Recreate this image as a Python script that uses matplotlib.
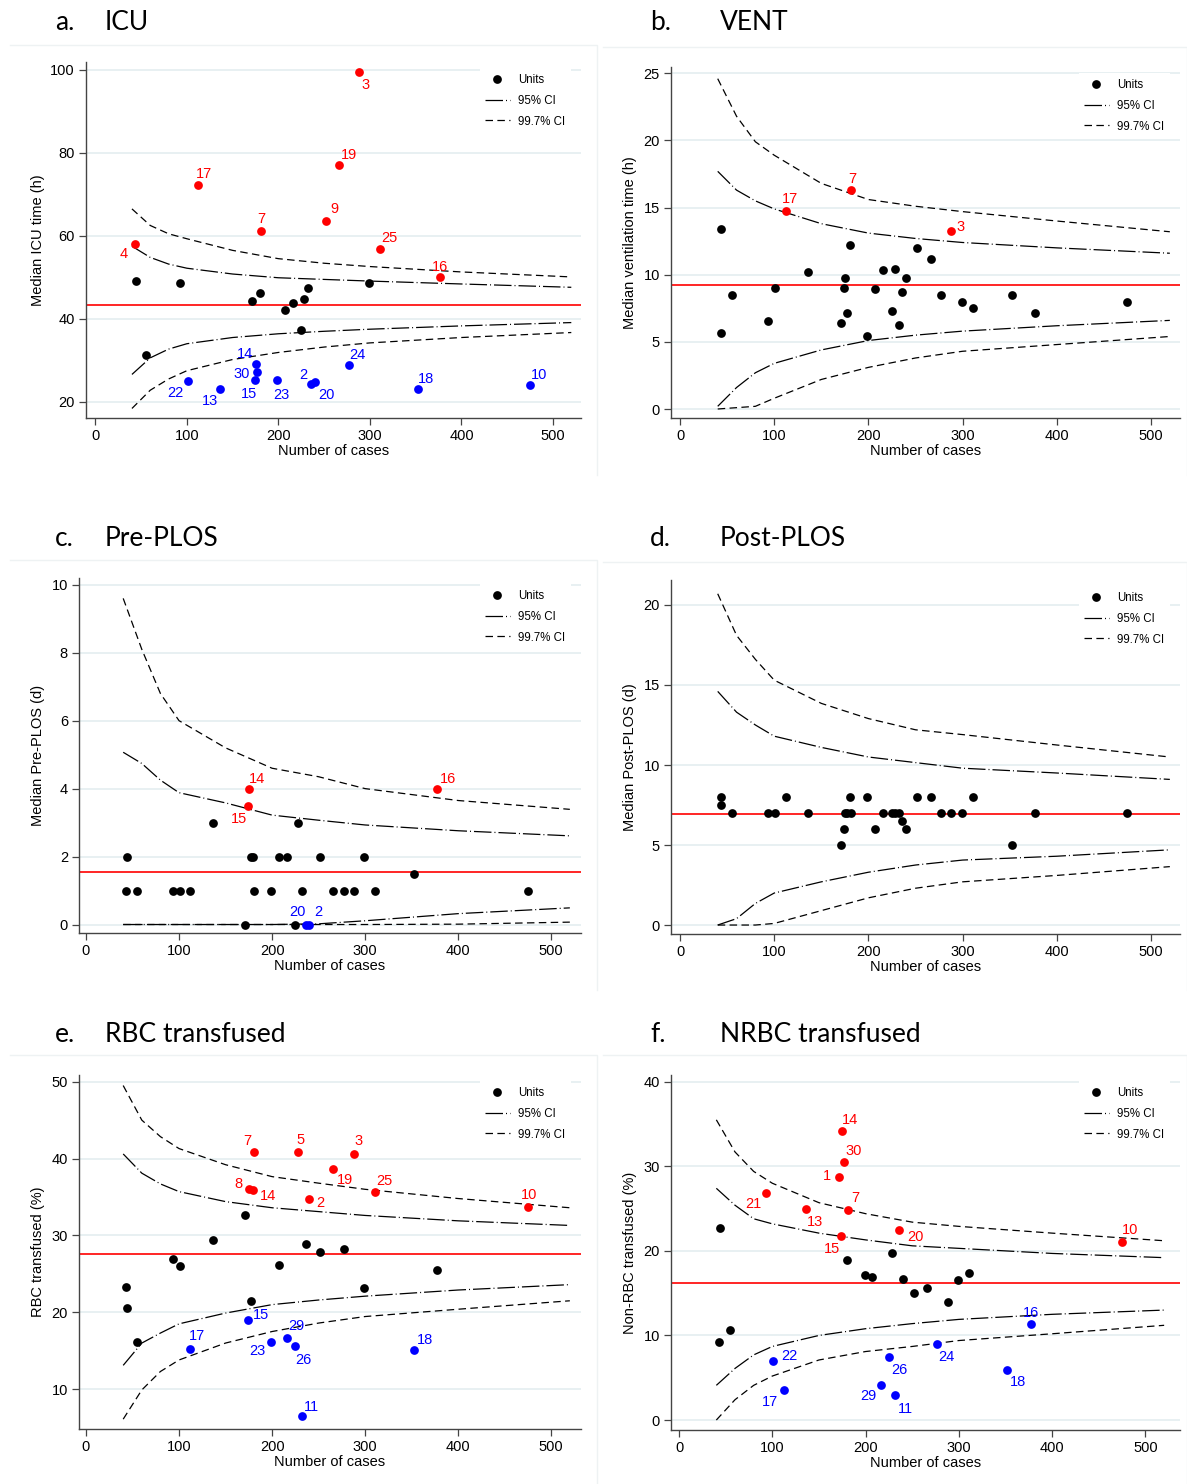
import matplotlib
matplotlib.use('Agg')
from matplotlib import pyplot as plt
from matplotlib.lines import Line2D

plt.rcParams['font.family'] = ['Liberation Sans', 'DejaVu Sans']

# units (hospital id) and their number of cases
unit_ids = [4, 6, 12, 21, 22, 17, 13, 1, 15, 14, 30, 8, 7, 23, 27,
            29, 26, 5, 11, 20, 2, 9, 19, 24, 3, 28, 25, 18, 16, 10]
cases = [43, 44, 55, 93, 101, 112, 136, 171, 174, 175, 177, 180, 181, 199, 207,
         216, 225, 228, 232, 236, 240, 252, 266, 277, 288, 299, 311, 352, 377, 475]

# medians per unit, same order as unit_ids
icu = [58.1, 49.0, 31.2, 48.6, 25.0, 72.3, 23.2, 44.2, 25.2, 29.0, 27.2, 46.3, 61.1, 25.2, 42.1,
       43.8, 37.3, 44.8, 47.5, 24.3, 24.7, 63.6, 77.1, 28.9, 99.4, 48.6, 56.8, 23.0, 50.1, 24.1]
vent = [5.68, 13.37, 8.48, 6.57, 9.0, 14.76, 10.24, 6.42, 9.0, 9.75, 7.14, 12.23, 16.34, 5.43, 8.9,
        10.34, 7.27, 10.42, 6.25, 8.68, 9.75, 11.98, 11.19, 8.48, 13.22, 7.99, 7.51, 8.48, 7.17, 7.99]
pre_plos = [1, 2, 1, 1, 1, 1, 3, 0, 3.5, 4, 2, 2, 1, 1, 2,
            2, 0, 3, 1, 0, 0, 2, 1, 1, 1, 2, 1, 1.5, 4, 1]
post_plos = [7.5, 8, 7, 7, 7, 8, 7, 5, 6, 7, 7, 8, 7, 8, 6,
             7, 7, 7, 7, 6.5, 6, 8, 8, 7, 7, 7, 8, 5, 7, 7]
rbc = [23.3, 20.5, 16.1, 26.9, 26.0, 15.2, 29.4, 32.7, 19.0, 36.0, 21.5, 35.9, 40.9, 16.1, 26.1,
       16.7, 15.6, 40.8, 6.5, 28.9, 34.7, 27.8, 38.6, 28.2, 40.6, 23.1, 35.7, 15.1, 25.5, 33.7]
nrbc = [9.26, 22.7, 10.6, 26.9, 7.0, 3.55, 25.0, 28.7, 21.75, 34.2, 30.5, 18.95, 24.8, 17.1, 16.9,
        4.1, 7.5, 19.7, 2.95, 22.5, 16.7, 15.05, 15.6, 8.95, 13.9, 16.6, 17.4, 5.9, 11.35, 21.0]

# overall medians
icu_mean, vent_mean, pre_mean, post_mean, rbc_mean, nrbc_mean = 43.4, 9.2, 1.54, 6.95, 27.56, 16.16

# outliers above / below the 95% limits
icu_high = [4, 17, 7, 9, 19, 3, 25, 16]
icu_low = [22, 13, 14, 30, 15, 23, 20, 2, 24, 18, 10]
vent_high = [17, 7, 3]
vent_low = []
pre_high = [14, 15, 16]
pre_low = [20, 2]
post_high = []
post_low = []
rbc_high = [7, 5, 8, 14, 2, 19, 3, 25, 10]
rbc_low = [15, 17, 23, 29, 26, 11, 18]
nrbc_high = [14, 30, 1, 21, 7, 13, 15, 20, 10]
nrbc_low = [22, 26, 17, 29, 11, 24, 16, 18]

# control limits
ci_x = [40, 60, 80, 100, 150, 200, 250, 300, 400, 520]
icu_u997 = [66.5, 62.5, 60.5, 59.3, 56.5, 54.5, 53.4, 52.6, 51.3, 50.1]
icu_u95 = [57.5, 54.8, 53.2, 52.2, 50.8, 49.9, 49.5, 49.1, 48.4, 47.6]
icu_l95 = [26.6, 30.6, 32.7, 34.0, 35.5, 36.4, 37.0, 37.5, 38.3, 39.1]
icu_l997 = [18.4, 22.8, 25.5, 27.5, 30.2, 31.9, 33.2, 34.2, 35.5, 36.7]
vent_u997 = [24.6, 21.8, 19.9, 18.9, 16.8, 15.6, 15.1, 14.7, 14.0, 13.2]
vent_u95 = [17.7, 16.3, 15.5, 14.9, 13.8, 13.1, 12.7, 12.4, 12.0, 11.6]
vent_l95 = [0.2, 1.6, 2.7, 3.4, 4.4, 5.1, 5.5, 5.8, 6.2, 6.6]
vent_l997 = [0.0, 0.1, 0.2, 0.8, 2.2, 3.1, 3.8, 4.3, 4.8, 5.4]
pre_u997 = [9.6, 8.1, 6.8, 6.0, 5.2, 4.6, 4.35, 4.0, 3.65, 3.39]
pre_u95 = [5.07, 4.74, 4.25, 3.88, 3.58, 3.22, 3.07, 2.93, 2.76, 2.61]
pre_l95 = [0, 0, 0, 0, 0, 0, 0.02, 0.11, 0.32, 0.49]
pre_l997 = [0, 0, 0, 0, 0, 0, 0, 0, 0.01, 0.07]
post_u997 = [20.7, 18.1, 16.6, 15.3, 13.85, 12.9, 12.2, 11.9, 11.25, 10.5]
post_u95 = [14.6, 13.3, 12.5, 11.8, 11.1, 10.5, 10.15, 9.8, 9.5, 9.1]
post_l95 = [0, 0.4, 1.35, 2.0, 2.7, 3.3, 3.75, 4.06, 4.3, 4.7]
post_l997 = [0, 0, 0, 0.1, 0.9, 1.7, 2.3, 2.7, 3.1, 3.65]
rbc_u997 = [49.5, 45.0, 42.85, 41.3, 39.2, 37.65, 36.8, 36.0, 34.8, 33.6]
rbc_u95 = [40.6, 38.1, 36.7, 35.7, 34.4, 33.6, 33.1, 32.6, 31.9, 31.3]
rbc_l95 = [13.1, 16.0, 17.3, 18.5, 19.9, 21.0, 21.6, 22.1, 22.9, 23.6]
rbc_l997 = [6.1, 9.9, 12.3, 13.8, 16.0, 17.5, 18.6, 19.45, 20.4, 21.5]
nrbc_u997 = [35.5, 31.7, 29.4, 28.0, 25.7, 24.4, 23.4, 22.9, 22.1, 21.2]
nrbc_u95 = [27.4, 25.4, 23.8, 23.2, 22.1, 21.3, 20.6, 20.3, 19.7, 19.2]
nrbc_l95 = [4.1, 6.1, 7.7, 8.7, 10.0, 10.8, 11.4, 11.9, 12.5, 13.0]
nrbc_l997 = [0, 2.4, 4.1, 5.2, 7.1, 8.1, 8.7, 9.4, 10.2, 11.2]

# label offsets (pixels) for the outlier ids
icu_offsets = {4: (-11, -10), 17: (6, 11), 7: (0, 12), 9: (8, 12), 19: (10, 10), 3: (7, -13),
               25: (9, 11), 16: (0, 10), 14: (-11, 10), 30: (-16, -2), 15: (-6, -14),
               22: (-12, -12), 13: (-10, -12), 23: (4, -15), 20: (15, -11), 2: (-12, 7),
               24: (8, 10), 18: (8, 10), 10: (9, 10)}
vent_offsets = {17: (4, 12), 7: (2, 11), 3: (9, 4)}
pre_offsets = {14: (8, 10), 15: (-9, -13), 16: (11, 10), 20: (-8, 13), 2: (9, 13)}
post_offsets = {}
rbc_offsets = {7: (-7, 11), 5: (2, 12), 3: (5, 13), 19: (12, -11), 25: (9, 11), 2: (11, -4),
               10: (1, 12), 14: (19, -7), 8: (-15, 6), 15: (13, 5), 17: (7, 13),
               23: (-14, -9), 29: (9, 12), 26: (8, -14), 11: (10, 9), 18: (11, 10)}
nrbc_offsets = {14: (8, 11), 30: (10, 11), 1: (-12, 1), 21: (-12, -11), 7: (7, 12),
                13: (9, -13), 15: (-9, -13), 20: (16, -7), 10: (8, 12), 22: (16, 5),
                26: (10, -13), 17: (-14, -12), 29: (-12, -11), 11: (10, -14), 24: (9, -13),
                16: (0, 11), 18: (11, -12)}

W, H = 1187, 1484
RED = '#ff0000'
BLUE = '#0000ff'
GRID = '#e6eff1'
FRAME = '#eef2f3'
LS95 = (0, (14, 2.4, 0.8, 2.4))
LS997 = (0, (6, 3.5))

panels = [
    dict(letter='a.', title='ICU', ylabel='Median ICU time (h)', y=icu, mean=icu_mean,
         ci=(icu_u997, icu_u95, icu_l95, icu_l997), high=icu_high, low=icu_low, off=icu_offsets,
         box=(86, 62, 581, 418), xlim=(-10.2, 530.6), ylim=(16.1, 101.9),
         yticks=[20, 40, 60, 80, 100], title_xy=(55, 105, 22), region=(10, 45, 597, 475)),
    dict(letter='b.', title='VENT', ylabel='Median ventilation time (h)', y=vent, mean=vent_mean,
         ci=(vent_u997, vent_u95, vent_l95, vent_l997), high=vent_high, low=vent_low, off=vent_offsets,
         box=(671, 67, 1180, 418), xlim=(-9.6, 530.8), ylim=(-0.67, 25.47),
         yticks=[0, 5, 10, 15, 20, 25], title_xy=(650, 720, 22), region=(603, 47, 1187, 475)),
    dict(letter='c.', title='Pre-PLOS', ylabel='Median Pre-PLOS (d)', y=pre_plos, mean=pre_mean,
         ci=(pre_u997, pre_u95, pre_l95, pre_l997), high=pre_high, low=pre_low, off=pre_offsets,
         box=(79, 578, 581, 933), xlim=(-7.5, 532), ylim=(-0.25, 10.2),
         yticks=[0, 2, 4, 6, 8, 10], title_xy=(55, 105, 539), region=(10, 560, 597, 990)),
    dict(letter='d.', title='Post-PLOS', ylabel='Median Post-PLOS (d)', y=post_plos, mean=post_mean,
         ci=(post_u997, post_u95, post_l95, post_l997), high=post_high, low=post_low, off=post_offsets,
         box=(671, 580, 1180, 934), xlim=(-9.6, 530.8), ylim=(-0.56, 21.56),
         yticks=[0, 5, 10, 15, 20], title_xy=(650, 720, 539), region=(603, 562, 1187, 990)),
    dict(letter='e.', title='RBC transfused', ylabel='RBC transfused (%)', y=rbc, mean=rbc_mean,
         ci=(rbc_u997, rbc_u95, rbc_l95, rbc_l997), high=rbc_high, low=rbc_low, off=rbc_offsets,
         box=(79, 1075, 581, 1429), xlim=(-7.5, 532), ylim=(4.82, 50.87),
         yticks=[10, 20, 30, 40, 50], title_xy=(55, 105, 1035), region=(10, 1055, 597, 1484)),
    dict(letter='f.', title='NRBC transfused', ylabel='Non-RBC transfused (%)', y=nrbc, mean=nrbc_mean,
         ci=(nrbc_u997, nrbc_u95, nrbc_l95, nrbc_l997), high=nrbc_high, low=nrbc_low, off=nrbc_offsets,
         box=(671, 1075, 1180, 1430), xlim=(-8.6, 537), ylim=(-1.18, 40.8),
         yticks=[0, 10, 20, 30, 40], title_xy=(650, 720, 1035), region=(603, 1055, 1187, 1484)),
]


def draw_panel(fig, p):
    # faint outline of the graph region
    rx0, ry0, rx1, ry1 = p['region']
    xs = [rx0 / W, rx1 / W, rx1 / W]
    ys = [1 - ry0 / H, 1 - ry0 / H, 1 - ry1 / H]
    fig.add_artist(Line2D(xs, ys, color=FRAME, lw=1.0))

    left, top, right, bottom = p['box']
    ax = fig.add_axes([left / W, 1 - bottom / H, (right - left) / W, (bottom - top) / H])
    for tick in p['yticks']:
        ax.axhline(tick, color=GRID, lw=1.3, zorder=0)
    ax.axhline(p['mean'], color=RED, lw=1.2, zorder=2)
    u997, u95, l95, l997 = p['ci']
    for curve in (u95, l95):
        ax.plot(ci_x, curve, color='black', lw=0.9, linestyle=LS95, zorder=2)
    for curve in (u997, l997):
        ax.plot(ci_x, curve, color='black', lw=0.9, linestyle=LS997, zorder=2)

    for uid, x, y in zip(unit_ids, cases, p['y']):
        if uid in p['high']:
            color = RED
        elif uid in p['low']:
            color = BLUE
        else:
            color = 'black'
        ax.plot(x, y, 'o', color=color, markersize=6.3, markeredgewidth=0, zorder=3)
        if color != 'black':
            dx, dy = p['off'].get(uid, (8, 10))
            ax.annotate(str(uid), (x, y), xytext=(dx, dy), textcoords='offset pixels',
                        ha='center', va='center', color=color, fontsize=10.5, zorder=4)

    ax.set_xlim(*p['xlim'])
    ax.set_ylim(*p['ylim'])
    ax.set_xticks([0, 100, 200, 300, 400, 500])
    ax.set_yticks(p['yticks'])
    for side in ('top', 'right'):
        ax.spines[side].set_visible(False)
    for side in ('left', 'bottom'):
        ax.spines[side].set_color('#444444')
        ax.spines[side].set_linewidth(1.0)
    ax.tick_params(direction='out', length=5, width=0.9, color='#444444', labelsize=10.5, pad=3)

    ax.set_xlabel('Number of cases', fontsize=10.5)
    ax.xaxis.set_label_coords(0.5, -33 / (bottom - top))
    ax.xaxis.label.set_verticalalignment('center')
    ax.set_ylabel(p['ylabel'], fontsize=10.5)
    ax.yaxis.set_label_coords(-(left - (38 if left < 300 else 630)) / (right - left), 0.5)
    ax.yaxis.label.set_verticalalignment('center')

    handles = [
        Line2D([], [], marker='o', color='black', linestyle='none', markersize=6.3, markeredgewidth=0),
        Line2D([], [], color='black', lw=0.9, linestyle=LS95),
        Line2D([], [], color='black', lw=0.9, linestyle=LS997),
    ]
    leg = ax.legend(handles, ['Units', '95% CI', '99.7% CI'], loc='upper right',
                    bbox_to_anchor=(1 - 7 / (right - left), 1 - 3 / (bottom - top)),
                    fontsize=8.3, frameon=True, framealpha=1,
                    facecolor='white', edgecolor='none', handlelength=2.1,
                    handletextpad=0.7, labelspacing=0.75, borderpad=0.5, borderaxespad=0.3,
                    fancybox=False)
    leg.set_zorder(5)

    lx, tx, ty = p['title_xy']
    fig.text(lx / W, 1 - ty / H, p['letter'], fontsize=19, family='Lato', va='center', ha='left')
    fig.text(tx / W, 1 - ty / H, p['title'], fontsize=19, family='Lato', va='center', ha='left')
    return ax


fig = plt.figure(figsize=(W / 100, H / 100), dpi=100)
for panel in panels:
    draw_panel(fig, panel)
fig.savefig('out.png', dpi=100, facecolor='white')
